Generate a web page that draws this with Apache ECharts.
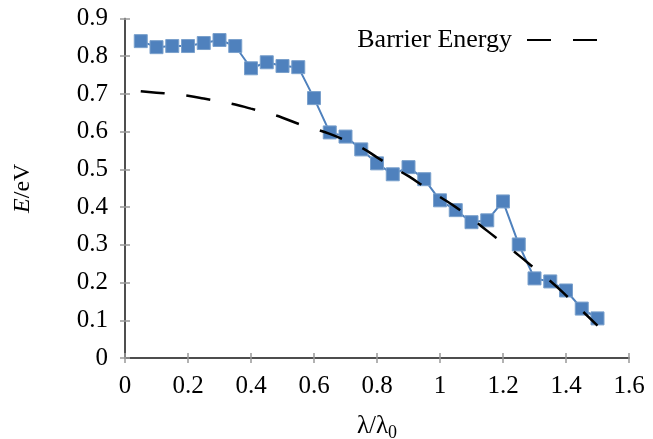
<!DOCTYPE html>
<html><head><meta charset="utf-8">
<script src="https://cdn.jsdelivr.net/npm/echarts@6/dist/echarts.min.js"></script>
<style>html,body{margin:0;padding:0;background:#fff}#c{width:653px;height:439px}</style>
</head><body><div id="c"></div>
<script>
var xValues = [0.05,0.1,0.15,0.2,0.25,0.3,0.35,0.4,0.45,0.5,0.55,0.6,0.65,0.7,0.75,0.8,0.85,0.9,0.95,1.0,1.05,1.1,1.15,1.2,1.25,1.3,1.35,1.4,1.45,1.5];
var energy = [0.840,0.824,0.827,0.827,0.835,0.843,0.827,0.768,0.784,0.774,0.771,0.689,0.598,0.587,0.553,0.516,0.487,0.506,0.474,0.418,0.392,0.360,0.365,0.415,0.301,0.211,0.203,0.179,0.131,0.105];
var barrier = [0.707,0.703,0.700,0.695,0.688,0.680,0.672,0.661,0.650,0.637,0.621,0.608,0.594,0.577,0.558,0.532,0.506,0.482,0.454,0.427,0.400,0.370,0.337,0.305,0.272,0.238,0.204,0.166,0.126,0.086];
var xTicks = [0,0.2,0.4,0.6,0.8,1,1.2,1.4,1.6];
var yTicks = [0,0.1,0.2,0.3,0.4,0.5,0.6,0.7,0.8,0.9];
var seriesName = 'Barrier Energy';

var font = 'Liberation Serif';
var chart = echarts.init(document.getElementById('c'));
var frame = {show:true, lineStyle:{color:'#444', width:1.5}};
var ticks = {show:true, inside:true, length:5, lineStyle:{color:'#999', width:1.5}};
chart.setOption({
  animation:false,
  grid:{left:125, top:18.5, right:24, bottom:81, containLabel:false, outerBoundsMode:'none'},
  legend:{
    data:[{name:seriesName}],
    right:50, top:22, align:'right', itemWidth:70, itemHeight:14, itemGap:12,
    textStyle:{fontFamily:font, fontSize:26, color:'#000', padding:[0,10,0,0]},
    itemStyle:{opacity:0}
  },
  xAxis:[{
    type:'value', min:0, max:1.6, interval:0.2,
    axisLine:frame, axisTick:ticks, splitLine:{show:false},
    axisLabel:{fontFamily:font, fontSize:25, color:'#000', margin:16,
      formatter:function(v){return String(+v.toFixed(1));}},
    name:'{a|λ/λ}{s|0}', nameLocation:'middle', nameGap:52,
    nameTextStyle:{rich:{a:{fontFamily:font,fontSize:25,color:'#000'},s:{fontFamily:font,fontSize:18,color:'#000',verticalAlign:'bottom',padding:[14,0,0,0]}}}
  },{
    type:'value', min:0, max:1.6, interval:0.2, position:'top',
    axisLine:frame, axisTick:ticks, axisLabel:{show:false}, splitLine:{show:false}
  }],
  yAxis:[{
    type:'value', min:0, max:0.9, interval:0.1,
    axisLine:frame, axisTick:ticks, splitLine:{show:false},
    axisLabel:{fontFamily:font, fontSize:25, color:'#000', margin:17,
      formatter:function(v){return String(+v.toFixed(1));}},
    name:'{i|E}{a|/eV}', nameLocation:'middle', nameGap:90, nameRotate:90,
    nameTextStyle:{rich:{i:{fontFamily:font,fontSize:24,fontStyle:'italic',color:'#000'},a:{fontFamily:font,fontSize:24,color:'#000'}}}
  },{
    type:'value', min:0, max:0.9, interval:0.1, position:'right',
    axisLine:frame, axisTick:ticks, axisLabel:{show:false}, splitLine:{show:false}
  }],
  series:[{
    name:'data', type:'line',
    data:xValues.map(function(x,i){return [x, energy[i]];}),
    symbol:'rect', symbolSize:13, showSymbol:true,
    lineStyle:{color:'#4f81bd', width:2},
    itemStyle:{color:'#4f81bd', borderColor:'#7aa0cc', borderWidth:1},
    z:2
  },{
    name:seriesName, type:'line',
    data:xValues.map(function(x,i){return [x, barrier[i]];}),
    symbol:'none', smooth:true,
    lineStyle:{color:'#000', width:2.5, type:[24,22]},
    itemStyle:{color:'#000'},
    z:3
  }]
});
</script></body></html>
